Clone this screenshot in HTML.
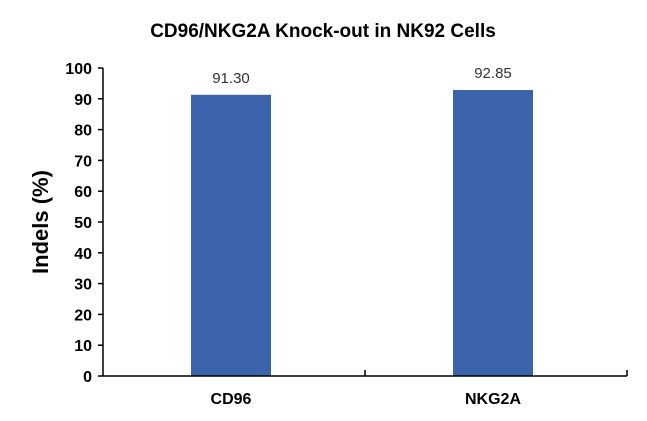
<!DOCTYPE html>
<html><head><meta charset="utf-8"><style>
body{margin:0;background:#fff;}
svg{display:block;font-family:"Liberation Sans",Arial,sans-serif;}
</style></head><body>
<svg id="c" width="647" height="421">
<text x="323" y="37" text-anchor="middle" font-size="19" font-weight="bold" fill="#000">CD96/NKG2A Knock-out in NK92 Cells</text>
<text transform="translate(48,222) rotate(-90)" text-anchor="middle" font-size="22" font-weight="bold" fill="#000">Indels (%)</text>
</svg>
<script>
const categories=["CD96","NKG2A"];
const values=[91.30,92.85];
const valueLabels=["91.30","92.85"];
const yTicks=[0,10,20,30,40,50,60,70,80,90,100];
const svg=document.getElementById('c');
const NS='http://www.w3.org/2000/svg';
const x0=103,x1=627,y0=376,y1=68,yMax=100;
const yScale=v=>y0-(y0-y1)*v/yMax;
const band=(x1-x0)/categories.length;
const bw=80;
function mk(t,a){const e=document.createElementNS(NS,t);for(const k in a)e.setAttribute(k,a[k]);svg.appendChild(e);return e;}
categories.forEach((c,i)=>{
 const cx=x0+band*(i+0.5)-3;
 const r=mk('rect',{x:cx-bw/2,y:yScale(values[i]),width:bw,height:y0-yScale(values[i]),fill:'#3B64AD'});
 
 
 const t=mk('text',{x:cx,y:yScale(values[i])-12,'text-anchor':'middle','font-size':'15',fill:'#333'});
 t.textContent=valueLabels[i];
 
 
 const l=mk('text',{x:cx,y:404,'text-anchor':'middle','font-size':'16','font-weight':'bold',fill:'#000'});
 l.textContent=c;
 
 
});
yTicks.forEach(v=>{
 const y=yScale(v);
 const tk=mk('line',{x1:x0-5,x2:x0,y1:y,y2:y,stroke:'#000','stroke-width':1.5});
 
 
 const t=mk('text',{x:x0-11,y:y+6,'text-anchor':'end','font-size':'16','font-weight':'bold',fill:'#000'});
 t.textContent=v;
 
 
});
const ya=mk('line',{x1:x0,x2:x0,y1:y1,y2:y0,stroke:'#000','stroke-width':1.5});


const xa=mk('line',{x1:x0,x2:x1,y1:y0,y2:y0,stroke:'#000','stroke-width':1.5});


for(let i=1;i<=categories.length;i++){
 const x=x0+band*i;
 const tk=mk('line',{x1:x,x2:x,y1:y0,y2:y0-6,stroke:'#000','stroke-width':1.5});
 
 
}
</script>
</body></html>
